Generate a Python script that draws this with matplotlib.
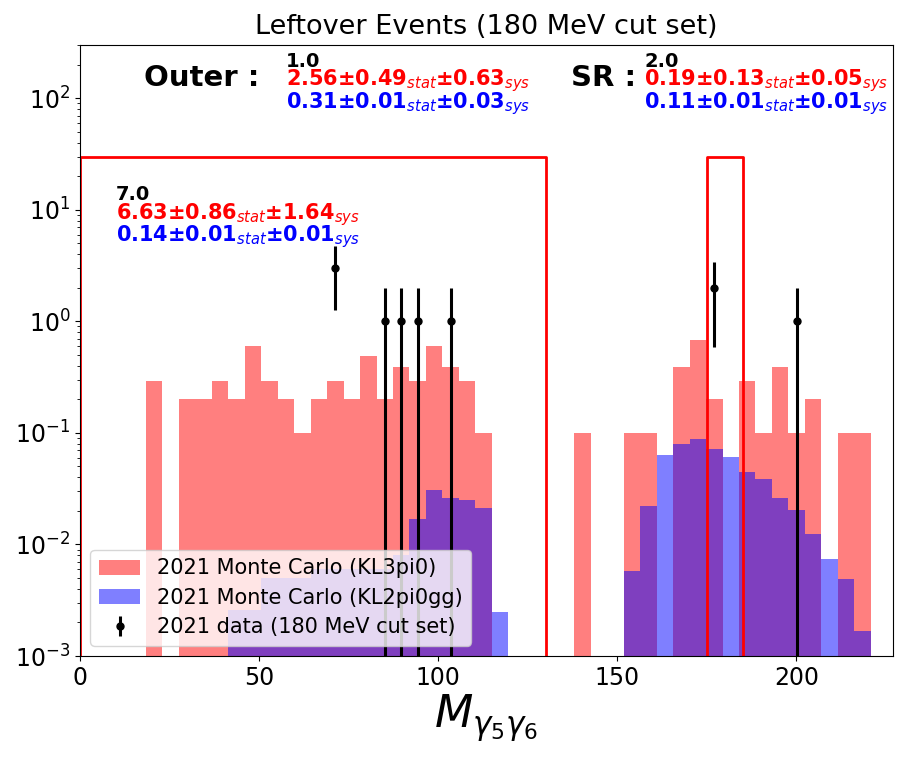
import numpy as np
import matplotlib
matplotlib.use("Agg")
import matplotlib.pyplot as plt

# ---- data ----
bin_lo, bin_hi, n_bins = 0.0, 230.0, 50

# KL3pi0 MC (per bin)
red_vals = [0, 0, 0, 0, 0.29, 0, 0.2, 0.2, 0.29, 0.2,
            0.6, 0.29, 0.2, 0.1, 0.2, 0.29, 0.2, 0.49, 0.2, 0.39,
            0.29, 0.6, 0.39, 0.29, 0.1, 0, 0, 0, 0, 0,
            0.1, 0, 0, 0.1, 0.1, 0, 0.39, 0.68, 0.2, 0,
            0.29, 0.1, 0.39, 0.1, 0.2, 0, 0.1, 0.1, 0, 0]
# KL2pi0gg MC (per bin)
blue_vals = [0, 0, 0, 0, 0, 0, 0, 0, 0, 0.0026,
             0.0026, 0.005, 0.005, 0.005, 0.006, 0.006, 0.006, 0.006, 0.006, 0.008,
             0.017, 0.031, 0.026, 0.025, 0.021, 0.0025, 0, 0, 0, 0,
             0, 0, 0, 0.0058, 0.022, 0.063, 0.08, 0.088, 0.072, 0.061,
             0.045, 0.039, 0.026, 0.0205, 0.0123, 0.0074, 0.0049, 0.00168, 0, 0]
# 2021 data counts (per bin)
data_counts = [0, 0, 0, 0, 0, 0, 0, 0, 0, 0,
               0, 0, 0, 0, 0, 3, 0, 0, 1, 1,
               1, 0, 1, 0, 0, 0, 0, 0, 0, 0,
               0, 0, 0, 0, 0, 0, 0, 0, 2, 0,
               0, 0, 0, 1, 0, 0, 0, 0, 0, 0]

outer_box = (0, 130, 30)      # x0, x1, height
sr_box = (175, 185, 30)

labels = ["2021 Monte Carlo (KL3pi0)", "2021 Monte Carlo (KL2pi0gg)",
          "2021 data (180 MeV cut set)"]
title = "Leftover Events (180 MeV cut set)"

txt_outer = ("1.0", r"$\mathbf{2.56}$±$\mathbf{0.49}_{stat}$±$\mathbf{0.63}_{sys}$",
             r"$\mathbf{0.31}$±$\mathbf{0.01}_{stat}$±$\mathbf{0.03}_{sys}$")
txt_sr = ("2.0", r"$\mathbf{0.19}$±$\mathbf{0.13}_{stat}$±$\mathbf{0.05}_{sys}$",
          r"$\mathbf{0.11}$±$\mathbf{0.01}_{stat}$±$\mathbf{0.01}_{sys}$")
txt_left = ("7.0", r"$\mathbf{6.63}$±$\mathbf{0.86}_{stat}$±$\mathbf{1.64}_{sys}$",
            r"$\mathbf{0.14}$±$\mathbf{0.01}_{stat}$±$\mathbf{0.01}_{sys}$")

# ---- plot ----
edges = np.linspace(bin_lo, bin_hi, n_bins + 1)
centers = 0.5 * (edges[:-1] + edges[1:])

fig = plt.figure(figsize=(8.97, 7.59), dpi=100)
ax = fig.add_axes([80/897, 103/759, 813/897, 611/759])

ax.hist(centers, bins=edges, weights=red_vals, color="red", alpha=0.5, label=labels[0])
ax.hist(centers, bins=edges, weights=blue_vals, color="blue", alpha=0.5, label=labels[1])

dc = np.array(data_counts, dtype=float)
m = dc > 0
ax.errorbar(centers[m], dc[m], yerr=np.sqrt(dc[m]), fmt="o", color="black",
            markersize=5, elinewidth=2.2, capsize=0, label=labels[2])

for (x0, x1, h) in (outer_box, sr_box):
    ax.plot([x0, x0, x1, x1], [1e-3, h, h, 1e-3], color="red", lw=2)

ax.set_yscale("log")
ax.set_ylim(1e-3, 300)
ax.set_xlim(0, 227)
ax.set_xticks([0, 50, 100, 150, 200])
ax.tick_params(axis="both", labelsize=17)
ax.set_title(title, fontsize=19.5, pad=8)
ax.set_xlabel(r"$M_{\gamma_5\gamma_6}$", fontsize=32, labelpad=2)

def block(x, ys, txts):
    cols = ["black", "red", "blue"]
    sizes = [14, 15, 15]
    for y, t, c, s in zip(ys, txts, cols, sizes):
        ax.text(x, y, t, color=c, fontsize=s, fontweight="bold",
                transform=ax.get_xaxis_transform(), va="center", ha="left")

block(57.5, [0.973, 0.942, 0.904], txt_outer)
block(157.5, [0.973, 0.942, 0.904], txt_sr)
block(10.0, [0.755, 0.723, 0.686], txt_left)
ax.text(18, 0.946, "Outer :", fontsize=21, fontweight="bold",
        transform=ax.get_xaxis_transform(), va="center", ha="left")
ax.text(137, 0.946, "SR :", fontsize=21, fontweight="bold",
        transform=ax.get_xaxis_transform(), va="center", ha="left")

ax.legend(loc="lower left", fontsize=15, labelspacing=0.45)

fig.savefig("out.png", dpi=100)
